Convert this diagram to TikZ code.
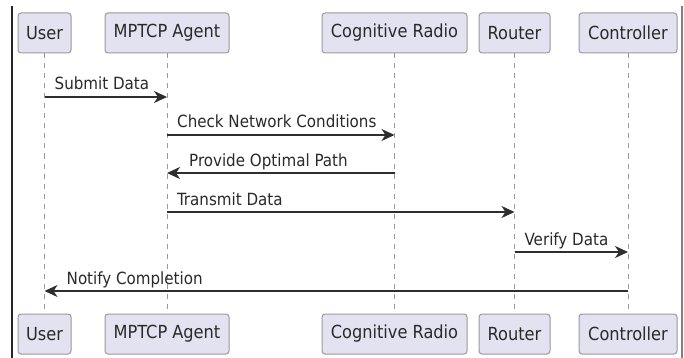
\documentclass[tikz,border=0pt]{standalone}
\usepackage{fontspec}
\setmainfont{DejaVu Sans Condensed}
\usetikzlibrary{arrows.meta}
\definecolor{boxfill}{HTML}{E2E2F0}
\definecolor{boxline}{HTML}{9A9A9E}
\definecolor{lifeline}{HTML}{9A9A9A}
\definecolor{msgline}{HTML}{2E2E2E}
\definecolor{txt}{HTML}{2A2A2A}
\tikzset{
  part/.style={draw=boxline, line width=1pt, fill=boxfill, rounded corners=3pt,
    minimum height=40pt, inner sep=0pt, font=\fontsize{18}{21}\selectfont, text=txt},
  life/.style={draw=lifeline, line width=0.9pt, dash pattern=on 5pt off 5pt},
  msg/.style={draw=msgline, line width=1.3pt, -{Stealth[length=13pt,width=12pt,inset=4pt]}},
  lbl/.style={anchor=base west, inner sep=0pt, font=\fontsize{16.8}{19}\selectfont, text=txt},
}
\begin{document}
\begin{tikzpicture}[x=1pt,y=-1pt]
\useasboundingbox (0,0) rectangle (684,358);
\fill[white] (0,0) rectangle (684,358);
% frame lines
\draw[line width=1.2pt, draw=black!85] (12,6) -- (12,358);
\draw[line width=1.2pt, draw=black!50] (682,6) -- (682,358);
% participants top
\node[part, minimum width=53pt] (uT) at (44.5,33) {User};
\node[part, minimum width=124pt] (mT) at (167,33) {MPTCP Agent};
\node[part, minimum width=145pt] (cT) at (394.5,33) {Cognitive Radio};
\node[part, minimum width=71pt] (rT) at (514.5,33) {Router};
\node[part, minimum width=98pt] (kT) at (628,33) {Controller};
% participants bottom
\node[part, minimum width=53pt] (uB) at (44.5,334) {User};
\node[part, minimum width=124pt] (mB) at (167,334) {MPTCP Agent};
\node[part, minimum width=145pt] (cB) at (394.5,334) {Cognitive Radio};
\node[part, minimum width=71pt] (rB) at (514.5,334) {Router};
\node[part, minimum width=98pt] (kB) at (628,334) {Controller};
% lifelines
\foreach \a in {u,m,c,r,k}{
  \draw[life] (\a T.south) -- (\a B.north);
}
% messages
\draw[msg] (uT |- 0,97) -- (mT |- 0,97);
\node[lbl] (l1) at ([xshift=10pt]uT |- 0,90) {Submit Data};
\draw[msg] (mT |- 0,135) -- (cT |- 0,135);
\node[lbl] (l2) at ([xshift=10pt]mT |- 0,128) {Check Network Conditions};
\draw[msg] (cT |- 0,173) -- (mT |- 0,173);
\node[lbl] (l3) at ([xshift=22pt]mT |- 0,166) {Provide Optimal Path};
\draw[msg] (mT |- 0,212) -- (rT |- 0,212);
\node[lbl] (l4) at ([xshift=10pt]mT |- 0,205) {Transmit Data};
\draw[msg] (rT |- 0,252) -- (kT |- 0,252);
\node[lbl] (l5) at ([xshift=10pt]rT |- 0,245) {Verify Data};
\draw[msg] (kT |- 0,291) -- (uT |- 0,291);
\node[lbl] (l6) at ([xshift=22pt]uT |- 0,284) {Notify Completion};
\end{tikzpicture}
\end{document}
